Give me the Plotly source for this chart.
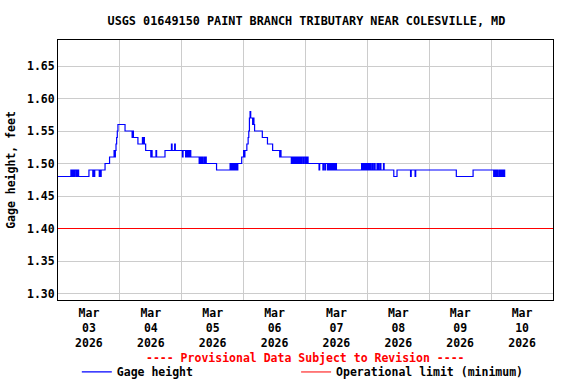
import pandas as pd
import plotly.graph_objects as go

# ---- data ----
# hours after 2026-03-03 00:00 at which the gage reading changes, and the new reading (ft)
change_hours = [
    0, 5.0, 5.25, 5.5, 5.75, 6.0, 6.25, 6.5, 7.0, 7.25, 7.5, 7.75, 8.0,
    12.0, 13.5, 13.75, 14.0, 14.25, 16.0, 16.25, 16.5, 16.75,
    18.25, 20.0, 21.75, 22.0, 22.25, 22.5, 22.75, 23.0, 23.25,
    26.0, 28.75, 29.0, 29.25, 31.0, 32.75, 33.0, 33.25, 33.5, 34.0,
    36.0, 36.25, 36.5, 38.0, 38.25, 41.5, 44.0, 44.25, 45.25, 45.5,
    48.25, 48.5, 49.5, 49.75, 50.0, 50.25, 50.5, 50.75, 51.0, 51.25, 51.5,
    54.75, 55.0, 55.25, 55.5, 55.75, 56.0, 56.25, 56.75, 57.0, 57.25, 57.5,
    61.5, 66.75, 67.0, 67.25, 67.5, 67.75, 68.0, 68.25, 68.5, 68.75, 69.0, 69.25, 69.5, 69.75,
    71.25, 72.0, 72.25, 72.5, 73.25, 73.75, 74.0, 74.25, 74.5, 74.75, 75.5, 75.75, 76.0, 76.25,
    79.25, 81.25, 83.25, 86.0, 86.25, 86.5,
    90.5, 90.75, 91.0, 91.25, 91.5, 91.75, 92.0, 92.25, 92.5, 92.75, 93.0, 93.25, 93.5, 93.75,
    94.0, 94.25, 94.5, 94.75, 95.25, 95.5, 96.0, 96.25, 96.5, 96.75, 97.0,
    101.25, 101.5, 102.75, 103.0, 103.5, 103.75, 104.5, 104.75, 105.0, 105.25, 105.5, 105.75,
    106.0, 106.25, 106.5, 106.75, 107.0, 107.25, 107.5, 107.75, 108.0,
    117.75, 118.0, 118.25, 118.5, 118.75, 119.0, 119.25, 119.5, 119.75, 120.0, 120.25, 120.5,
    120.75, 121.0, 121.25, 121.5, 122.0, 122.25, 122.75, 123.0, 123.75, 124.0, 124.25, 124.5,
    125.0, 125.25, 126.25, 126.5,
    130.25, 131.5, 136.75, 137.0, 138.5, 138.75, 154.5, 161.0,
    169.0, 169.25, 169.5, 169.75, 170.0, 170.25, 170.5, 171.0, 171.25, 171.5, 171.75, 172.0,
    172.25, 172.5, 172.75, 173.0, 173.25, 173.5,
]
gage_ft = [
    1.48, 1.49, 1.48, 1.49, 1.48, 1.49, 1.48, 1.49, 1.48, 1.49, 1.48, 1.49, 1.48,
    1.49, 1.48, 1.49, 1.48, 1.49, 1.48, 1.49, 1.48, 1.49,
    1.50, 1.51, 1.52, 1.51, 1.52, 1.53, 1.54, 1.55, 1.56,
    1.55, 1.54, 1.55, 1.54, 1.53, 1.54, 1.53, 1.54, 1.53, 1.52,
    1.51, 1.52, 1.51, 1.52, 1.51, 1.52, 1.53, 1.52, 1.53, 1.52,
    1.51, 1.52, 1.51, 1.52, 1.51, 1.52, 1.51, 1.52, 1.51, 1.52, 1.51,
    1.50, 1.51, 1.50, 1.51, 1.50, 1.51, 1.50, 1.51, 1.50, 1.51, 1.50,
    1.49, 1.50, 1.49, 1.50, 1.49, 1.50, 1.49, 1.50, 1.49, 1.50, 1.49, 1.50, 1.49, 1.50,
    1.51, 1.52, 1.51, 1.52, 1.53, 1.54, 1.55, 1.57, 1.58, 1.57, 1.56, 1.57, 1.56, 1.55,
    1.54, 1.53, 1.52, 1.51, 1.52, 1.51,
    1.50, 1.51, 1.50, 1.51, 1.50, 1.51, 1.50, 1.51, 1.50, 1.51, 1.50, 1.51, 1.50, 1.51,
    1.50, 1.51, 1.50, 1.51, 1.50, 1.51, 1.50, 1.51, 1.50, 1.51, 1.50,
    1.49, 1.50, 1.49, 1.50, 1.49, 1.50, 1.49, 1.50, 1.49, 1.50, 1.49, 1.50,
    1.49, 1.50, 1.49, 1.50, 1.49, 1.50, 1.49, 1.50, 1.49,
    1.50, 1.49, 1.50, 1.49, 1.50, 1.49, 1.50, 1.49, 1.50, 1.49, 1.50, 1.49,
    1.50, 1.49, 1.50, 1.49, 1.50, 1.49, 1.50, 1.49, 1.50, 1.49, 1.50, 1.49,
    1.50, 1.49, 1.50, 1.49,
    1.48, 1.49, 1.48, 1.49, 1.48, 1.49, 1.48, 1.49,
    1.48, 1.49, 1.48, 1.49, 1.48, 1.49, 1.48, 1.49, 1.48, 1.49, 1.48, 1.49,
    1.48, 1.49, 1.48, 1.49, 1.48, 1.48,
]
operational_limit_ft = 1.40
start_time = "2026-03-03 00:00"
end_time = "2026-03-11 00:00"
title_text = "USGS 01649150 PAINT BRANCH TRIBUTARY NEAR COLESVILLE, MD"
y_title = "Gage height, feet"
series_names = ["Gage height", "Operational limit (minimum)"]
provisional_text = "---- Provisional Data Subject to Revision ----"

# ---- figure ----
base = pd.Timestamp(start_time)
times = base + pd.to_timedelta(change_hours, unit="h")

FONT = "DejaVu Sans Mono"
fsize = 11.5
legend_font = dict(family=FONT, size=fsize, color="black", weight="bold")

fig = go.Figure()
fig.add_trace(go.Scatter(
    x=times, y=gage_ft, mode="lines", line_shape="hv",
    line=dict(color="#0000ff", width=1.2), name=series_names[0], legend="legend",
))
fig.add_trace(go.Scatter(
    x=[pd.Timestamp(start_time), pd.Timestamp(end_time)],
    y=[operational_limit_ft, operational_limit_ft], mode="lines",
    line=dict(color="#ff0000", width=1), name=series_names[1], legend="legend2",
))

leg_y = -0.221
fig.update_layout(
    width=576, height=384,
    margin=dict(l=58, r=23, t=40, b=84, autoexpand=False),
    paper_bgcolor="white", plot_bgcolor="white",
    font=dict(family=FONT, size=fsize, color="black", weight="bold"),
    title=dict(text=title_text, x=0.532, xanchor="center", y=1 - 21 / 384, yanchor="middle",
               font=dict(family=FONT, size=11.8, color="black", weight="bold")),
    showlegend=True,
    legend=dict(orientation="h", x=0.038, xanchor="left", y=leg_y, yanchor="top",
                font=legend_font, itemwidth=30, bgcolor="rgba(0,0,0,0)"),
    legend2=dict(orientation="h", x=0.481, xanchor="left", y=leg_y, yanchor="top",
                 font=legend_font, itemwidth=30, bgcolor="rgba(0,0,0,0)"),
)
fig.update_xaxes(
    type="date", range=[start_time, end_time],
    dtick=86400000, tick0=start_time, tickformat="%b<br>%d<br>%Y",
    ticklabelmode="period", ticks="", ticklabelstandoff=2,
    showgrid=True, gridcolor="#cccccc", gridwidth=1,
    showline=True, linecolor="black", linewidth=1, mirror=True, zeroline=False,
)
fig.update_yaxes(
    range=[1.29, 1.69], dtick=0.05, tick0=1.30, tickformat=".2f", ticks="",
    showgrid=True, gridcolor="#cccccc", gridwidth=1,
    showline=True, linecolor="black", linewidth=1, mirror=True, zeroline=False,
    title=dict(text=y_title, standoff=8, font=dict(family=FONT, size=fsize, weight="bold")),
)
fig.add_annotation(
    text=provisional_text, xref="paper", yref="paper", x=0.5, y=-0.222,
    xanchor="center", yanchor="middle", showarrow=False,
    font=dict(family=FONT, size=fsize, color="#ff0000", weight="bold"),
)
fig.write_html("out.html")
